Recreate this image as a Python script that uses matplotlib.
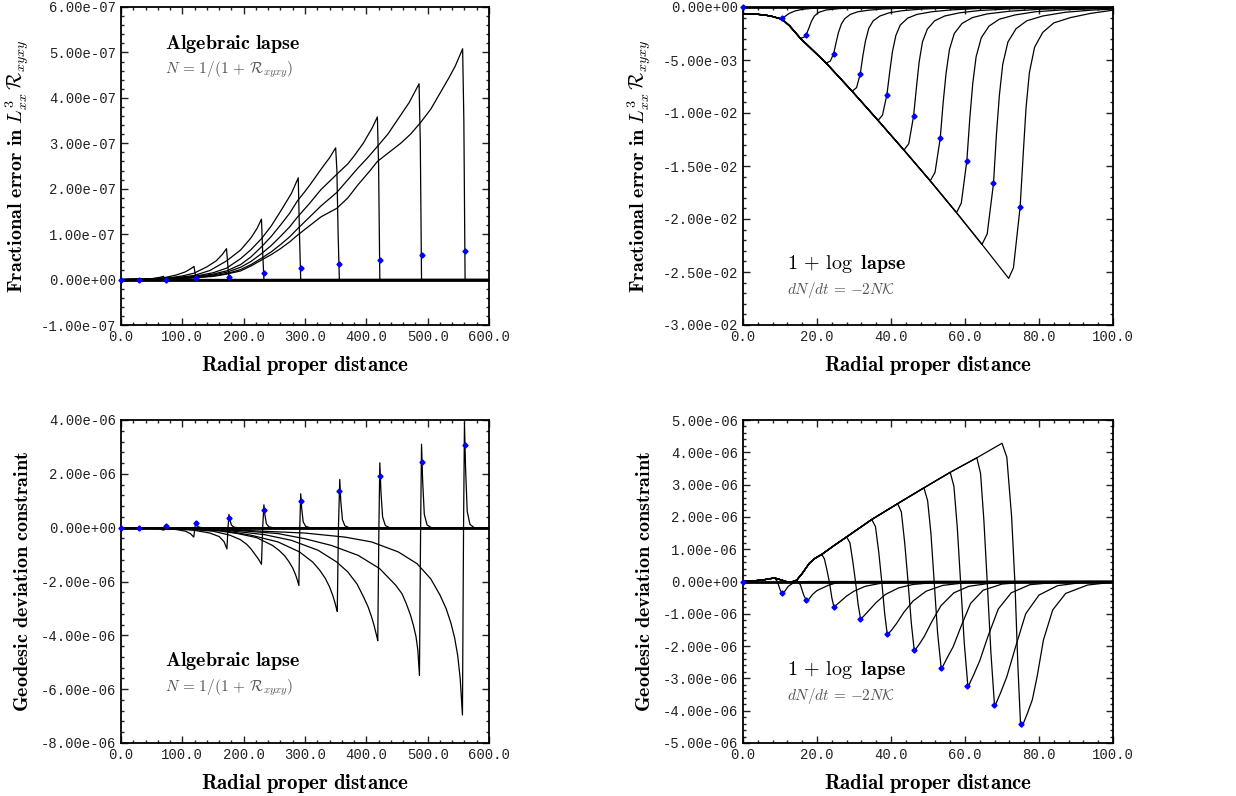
import matplotlib
matplotlib.use("Agg")
import matplotlib.pyplot as plt
from matplotlib.ticker import AutoMinorLocator, FormatStrFormatter, FuncFormatter, MultipleLocator

plt.rcParams["mathtext.fontset"] = "cm"
plt.rcParams["axes.unicode_minus"] = False

##### data #####
# top left: fractional error, algebraic lapse (y in units of 1e-7)
tl_dot_x = [0, 29, 73, 122, 176, 233, 293, 356, 422, 490, 561]
tl_dot_y = [0, 0, 0.0, 0.03, 0.065, 0.15, 0.26, 0.345, 0.43, 0.53, 0.63]
tl_curves = [
    ([0, 600], [0, 0]),
    ([0, 15, 27, 29, 600], [0, 0, 0.005, 0, 0]),
    ([0, 30, 50, 62, 69, 71, 73, 600], [0, 0.003, 0.02, 0.045, 0.07, 0.03, 0, 0]),
    ([0, 40, 70, 90, 105, 115, 119, 121, 122, 600],
     [0, 0.005, 0.04, 0.1, 0.17, 0.25, 0.29, 0.12, 0, 0]),
    ([0, 50, 80, 100, 119, 140, 155, 165, 172, 174, 176, 600],
     [0, 0.01, 0.04, 0.08, 0.14, 0.28, 0.41, 0.55, 0.68, 0.35, 0, 0]),
    ([0, 60, 90, 119, 145, 172, 195, 212, 222, 229, 231, 233, 600],
     [0, 0.01, 0.04, 0.09, 0.2, 0.41, 0.65, 0.92, 1.13, 1.33, 0.6, 0, 0]),
    ([0, 70, 119, 150, 172, 195, 212, 229, 245, 260, 278, 289, 291, 293, 600],
     [0, 0.02, 0.07, 0.15, 0.25, 0.46, 0.66, 0.9, 1.18, 1.5, 1.9, 2.24, 1.0, 0, 0]),
    ([0, 80, 119, 150, 172, 195, 212, 229, 245, 260, 275, 288, 300, 310, 322, 330, 340, 350,
      352, 354, 356, 600],
     [0, 0.02, 0.06, 0.12, 0.19, 0.33, 0.5, 0.72, 0.95, 1.2, 1.46, 1.74, 1.94, 2.12, 2.35, 2.5,
      2.68, 2.9, 2.4, 1.0, 0, 0]),
    ([0, 90, 119, 150, 172, 195, 212, 229, 245, 260, 275, 288, 307, 326, 352, 370, 380, 395,
      410, 418, 420, 422, 600],
     [0, 0.02, 0.05, 0.1, 0.16, 0.27, 0.4, 0.57, 0.75, 0.95, 1.16, 1.38, 1.67, 1.98, 2.32, 2.55,
      2.72, 3.0, 3.35, 3.58, 2.5, 0, 0]),
    ([0, 100, 150, 172, 195, 212, 229, 245, 260, 275, 288, 307, 326, 352, 370, 386, 402, 418,
      435, 450, 470, 486, 488, 490, 600],
     [0, 0.02, 0.08, 0.13, 0.22, 0.33, 0.47, 0.61, 0.77, 0.94, 1.12, 1.37, 1.62, 1.92, 2.2, 2.45,
      2.68, 2.93, 3.2, 3.5, 3.9, 4.31, 3.0, 0, 0]),
    ([0, 100, 150, 172, 195, 212, 229, 245, 260, 275, 288, 307, 326, 352, 370, 386, 405, 418,
      437, 456, 472, 488, 505, 520, 535, 545, 557, 559, 561, 600],
     [0, 0.02, 0.07, 0.12, 0.19, 0.3, 0.43, 0.55, 0.68, 0.83, 0.98, 1.18, 1.38, 1.57, 1.8, 2.08,
      2.38, 2.6, 2.8, 3.0, 3.2, 3.45, 3.75, 4.1, 4.45, 4.7, 5.08, 3.5, 0, 0]),
]

# top right: fractional error, 1+log lapse (y in units of 1e-3)
tr_dot_x = [0, 10.6, 17.1, 24.5, 31.7, 38.9, 46.1, 53.3, 60.5, 67.7, 74.9]
tr_dot_y = [0, -1.08, -2.6, -4.4, -6.3, -8.26, -10.3, -12.4, -14.5, -16.65, -18.85]
tr_env_x = [0, 3, 6, 8, 10, 11.3, 12.6, 15.5, 22.5, 29.5, 36.5, 43.5, 50.6, 57.7, 64.6, 71.8]
tr_env_y = [-0.62, -0.66, -0.76, -0.9, -1.1, -1.38, -1.78, -2.95, -5.3, -7.95, -10.7, -13.5,
            -16.4, -19.4, -22.4, -25.6]
tr_rises = [
    ([10, 10.6, 11.5, 12.5, 14, 16, 19, 23, 30, 40, 100],
     [-1.1, -1.08, -0.85, -0.6, -0.38, -0.22, -0.12, -0.06, -0.02, 0, 0]),
    ([15.5, 16.5, 17.1, 17.8, 18.5, 19.3, 20.5, 22.5, 26, 32, 40, 55, 100],
     [-2.95, -2.85, -2.6, -2.0, -1.35, -0.85, -0.5, -0.28, -0.15, -0.07, -0.03, -0.01, 0]),
    ([22.5, 23.6, 24.5, 25.2, 25.8, 26.6, 27.5, 29, 31, 34, 38, 45, 60, 100],
     [-5.3, -5.1, -4.4, -3.3, -2.4, -1.6, -1.1, -0.7, -0.45, -0.3, -0.18, -0.09, -0.03, 0]),
    ([29.5, 30.7, 31.7, 32.4, 33.1, 34, 35.2, 37, 39.5, 43, 48, 55, 70, 100],
     [-7.95, -7.6, -6.3, -4.6, -3.2, -2.0, -1.3, -0.85, -0.55, -0.35, -0.2, -0.1, -0.04, -0.01]),
    ([36.5, 37.7, 38.9, 39.7, 40.4, 41.3, 42.5, 44.5, 47, 51, 56, 63, 75, 100],
     [-10.7, -10.2, -8.26, -6.0, -4.2, -2.7, -1.7, -1.05, -0.7, -0.45, -0.28, -0.15, -0.06, -0.02]),
    ([43.5, 44.8, 46.1, 46.9, 47.6, 48.5, 49.8, 51.8, 54.5, 58.5, 64, 72, 85, 100],
     [-13.5, -12.9, -10.3, -7.5, -5.2, -3.3, -2.1, -1.3, -0.85, -0.55, -0.33, -0.18, -0.08, -0.04]),
    ([50.6, 51.9, 53.3, 54.1, 54.9, 55.8, 57.1, 59.2, 62, 66, 72, 80, 90, 100],
     [-16.4, -15.6, -12.4, -9.0, -6.2, -4.0, -2.5, -1.55, -1.0, -0.65, -0.4, -0.22, -0.12, -0.07]),
    ([57.7, 59.0, 60.5, 61.3, 62.1, 63, 64.4, 66.5, 69.3, 73.5, 79, 87, 100],
     [-19.4, -18.5, -14.5, -10.5, -7.2, -4.7, -2.9, -1.8, -1.15, -0.75, -0.45, -0.26, -0.12]),
    ([64.6, 66.0, 67.7, 68.5, 69.3, 70.2, 71.6, 73.8, 76.7, 81, 87, 94, 100],
     [-22.4, -21.4, -16.65, -12.0, -8.3, -5.4, -3.3, -2.05, -1.3, -0.85, -0.5, -0.3, -0.2]),
    ([71.8, 73.1, 74.9, 75.8, 76.5, 77.4, 78.8, 81, 84, 88.5, 94, 100],
     [-25.6, -24.6, -18.85, -13.5, -9.5, -6.2, -3.8, -2.4, -1.5, -1.0, -0.6, -0.3]),
]

# bottom left: geodesic deviation constraint, algebraic lapse (y in units of 1e-6)
bl_dot_x = [0, 29, 73, 122, 176, 233, 293, 356, 422, 490, 561]
bl_dot_y = [0, 0, 0.06, 0.19, 0.37, 0.64, 0.99, 1.38, 1.91, 2.43, 3.06]
bl_curves = [
    ([0, 600], [0, 0]),
    ([0, 600], [0, 0]),
    ([0, 40, 60, 70, 72, 73, 75, 80, 600], [0, -0.01, -0.04, -0.09, 0, 0.07, 0.02, 0, 0]),
    ([0, 60, 90, 105, 113, 118.6, 120.5, 122, 124, 127, 132, 600],
     [0, -0.02, -0.07, -0.13, -0.22, -0.35, 0, 0.21, 0.08, 0.02, 0, 0]),
    ([0, 80, 120, 145, 160, 168, 172.7, 174.5, 176, 177.5, 180, 184, 190, 600],
     [0, -0.03, -0.1, -0.2, -0.33, -0.52, -0.79, 0, 0.49, 0.3, 0.1, 0.02, 0, 0]),
    ([0, 100, 150, 177.6, 195, 205, 212.4, 218, 223, 226.5, 229, 231, 233, 234.5, 237, 241, 248, 600],
     [0, -0.04, -0.13, -0.28, -0.45, -0.62, -0.8, -0.98, -1.13, -1.26, -1.36, 0, 0.85, 0.5, 0.15,
      0.03, 0, 0]),
    ([0, 110, 160, 190.6, 221, 247, 258, 267, 274, 280, 284.5, 288, 290, 291.5, 293, 294.5, 297, 301,
      308, 600],
     [0, -0.04, -0.12, -0.22, -0.37, -0.66, -0.85, -1.05, -1.27, -1.5, -1.74, -1.98, -2.15, 0, 1.26,
      0.75, 0.22, 0.05, 0, 0]),
    ([0, 120, 170, 212, 256, 291, 312.7, 324, 333, 340, 345, 349, 351, 352.6, 354.5, 356.7, 358.3,
      361, 365, 372, 600],
     [0, -0.04, -0.12, -0.28, -0.53, -0.9, -1.28, -1.58, -1.88, -2.2, -2.5, -2.8, -2.98, -3.11, 0,
      1.79, 1.0, 0.3, 0.07, 0, 0]),
    ([0, 130, 180, 234, 277.8, 321.4, 352, 370, 385, 395.6, 403, 408.6, 412.5, 415.5, 417.5, 418.6,
      420.5, 422, 423.8, 426.5, 431, 438, 600],
     [0, -0.04, -0.12, -0.26, -0.47, -0.84, -1.28, -1.65, -2.1, -2.58, -2.95, -3.32, -3.62, -3.9,
      -4.08, -4.2, 0, 2.41, 1.35, 0.4, 0.08, 0, 0]),
    ([0, 140, 200, 256, 299.6, 343, 386.8, 421.7, 448, 458, 465.3, 472, 477, 481, 484, 486.6, 488.5,
      490, 491.8, 494.5, 499, 506, 600],
     [0, -0.04, -0.12, -0.22, -0.41, -0.66, -1.03, -1.52, -2.14, -2.45, -2.83, -3.25, -3.65, -4.05,
      -4.55, -5.49, 0, 3.1, 1.75, 0.5, 0.1, 0, 0]),
    ([0, 150, 220, 299.6, 365, 408.6, 452, 482.8, 505, 520, 530, 538, 544, 549, 553, 556.7, 558.5,
      560, 561.8, 564.5, 569, 576, 600],
     [0, -0.04, -0.12, -0.2, -0.35, -0.53, -0.9, -1.34, -1.9, -2.5, -3.0, -3.55, -4.1, -4.75, -5.6,
      -6.96, 0, 3.89, 2.2, 0.6, 0.12, 0, 0]),
]

# bottom right: geodesic deviation constraint, 1+log lapse (y in units of 1e-6)
br_dot_x = [0, 10.6, 17.1, 24.5, 31.7, 38.9, 46.2, 53.4, 60.6, 67.8, 75.0]
br_dot_y = [0, -0.37, -0.58, -0.78, -1.15, -1.63, -2.12, -2.67, -3.23, -3.82, -4.4]
br_env_x = [0, 3, 6, 8.5, 10, 11.9, 13, 14.5, 16, 17.9, 19.5, 21.3, 24.7, 28, 34.8, 41.8,
            48.9, 56, 63.2, 70]
br_env_y = [0, 0.02, 0.06, 0.11, 0.06, -0.01, -0.02, 0.04, 0.25, 0.56, 0.72, 0.84, 1.12, 1.38,
            1.92, 2.41, 2.9, 3.38, 3.83, 4.28]
br_drops = [
    ([8.5, 9.3, 10.0, 10.6, 11.3, 12.2, 13.5, 15, 18, 100],
     [0.11, 0.0, -0.25, -0.37, -0.3, -0.15, -0.05, -0.01, 0, 0]),
    ([14.5, 15.5, 16.4, 17.1, 17.8, 18.8, 20, 21.5, 23, 25, 28, 32, 100],
     [0.04, -0.1, -0.42, -0.58, -0.55, -0.4, -0.28, -0.2, -0.12, -0.05, -0.01, 0, 0]),
    ([21.3, 22.0, 22.7, 23.4, 24.0, 24.6, 25.5, 26.5, 28, 30, 33, 37, 42, 50, 100],
     [0.84, 0.7, 0.35, -0.05, -0.5, -0.8, -0.7, -0.6, -0.45, -0.3, -0.15, -0.06, -0.02, 0, 0]),
    ([28, 28.9, 29.7, 30.4, 31.1, 31.8, 32.8, 34, 36, 38.5, 42, 46, 52, 60, 100],
     [1.38, 1.2, 0.6, 0.0, -0.7, -1.17, -1.05, -0.9, -0.65, -0.4, -0.2, -0.09, -0.03, 0, 0]),
    ([34.8, 35.8, 36.7, 37.5, 38.3, 39.0, 40.2, 41.5, 43.5, 46, 49.5, 54, 60, 70, 100],
     [1.92, 1.7, 0.9, 0.0, -1.0, -1.65, -1.5, -1.3, -0.95, -0.6, -0.3, -0.12, -0.04, 0, 0]),
    ([41.8, 42.8, 43.7, 44.6, 45.5, 46.3, 47.6, 49, 51, 53.5, 57, 61, 67, 78, 100],
     [2.41, 2.15, 1.2, 0.0, -1.3, -2.15, -1.95, -1.7, -1.25, -0.75, -0.35, -0.15, -0.05, 0, 0]),
    ([48.9, 49.9, 50.8, 51.7, 52.6, 53.6, 55.1, 56.8, 58.9, 61.5, 64.9, 70, 76, 85, 100],
     [2.9, 2.5, 1.48, -0.06, -1.6, -2.72, -2.38, -2.02, -1.4, -0.68, -0.27, -0.08, -0.02, 0, 0]),
    ([56, 57.0, 57.9, 58.8, 59.8, 60.8, 62.3, 64, 66.2, 69, 72.5, 77.5, 84, 92, 100],
     [3.38, 2.95, 1.7, 0.0, -1.9, -3.27, -2.9, -2.45, -1.7, -0.85, -0.35, -0.1, -0.03, 0, 0]),
    ([63.2, 64.2, 65.1, 66.0, 67.0, 68.0, 69.6, 71.3, 73.6, 76.4, 80, 85, 91, 100],
     [3.83, 3.35, 1.9, 0.0, -2.2, -3.88, -3.45, -2.95, -2.05, -1.0, -0.42, -0.13, -0.04, 0]),
    ([70, 71.3, 72.6, 73.5, 74.3, 75.0, 75.4, 76.9, 78.2, 79.5, 81.2, 83.7, 87.2, 93.1, 100],
     [4.28, 3.85, 2.0, -0.06, -2.63, -4.4, -4.5, -4.07, -3.66, -2.94, -1.81, -0.88, -0.37, -0.11,
      -0.02]),
]


##### helpers #####
def join_env(env_x, env_y, part_x, part_y):
    xs = [x for x in env_x if x < part_x[0]] + list(part_x)
    ys = [y for x, y in zip(env_x, env_y) if x < part_x[0]] + list(part_y)
    return xs, ys


def draw(ax, curves, dot_x, dot_y, scale):
    for i, (xs, ys) in enumerate(curves):
        lw = 2.0 if i == 0 else 0.9
        ax.plot(xs, [y * scale for y in ys], color="black", lw=lw, zorder=2)
    ax.plot(dot_x, [y * scale for y in dot_y], ls="none", marker="D", ms=2.6,
            color="blue", mec="blue", zorder=4, clip_on=False)


def style(ax, xmax, xstep, ylo, yhi, ystep, ylabel):
    ax.set_xlim(0, xmax)
    ax.set_ylim(ylo, yhi)
    ax.xaxis.set_major_locator(MultipleLocator(xstep))
    ax.yaxis.set_major_locator(MultipleLocator(ystep))
    ax.xaxis.set_minor_locator(AutoMinorLocator(5))
    ax.yaxis.set_minor_locator(AutoMinorLocator(5))
    ax.xaxis.set_major_formatter(FormatStrFormatter("%.1f"))
    ax.yaxis.set_major_formatter(FuncFormatter(lambda v, p: "%.2e" % (round(v / ystep) * ystep)))
    ax.tick_params(which="both", direction="in", top=True, right=True, width=1.0,
                   labelsize=10, labelfontfamily="Liberation Mono", colors="#222222")
    ax.tick_params(which="major", length=5)
    ax.tick_params(which="minor", length=2.5)
    for sp in ax.spines.values():
        sp.set_linewidth(1.3)
    ax.set_xlabel(r"$\mathbf{Radial\ proper\ distance}$", fontsize=15, labelpad=7)
    ax.set_ylabel(ylabel, fontsize=14.5, labelpad=6)


def annotate(ax, y, title, formula):
    ax.text(0.12, y, title, transform=ax.transAxes, fontsize=14.5, va="center")
    ax.text(0.12, y - 0.082, formula, transform=ax.transAxes, fontsize=11, va="center",
            color="#555555")


##### figure #####
fig = plt.figure(figsize=(12.36, 7.96), dpi=100)
W, H = 1236, 796
ax_tl = fig.add_axes([121 / W, 1 - 325 / H, 368 / W, 318 / H])
ax_tr = fig.add_axes([743 / W, 1 - 325 / H, 370 / W, 318 / H])
ax_bl = fig.add_axes([121 / W, 1 - 743 / H, 368 / W, 323 / H])
ax_br = fig.add_axes([743 / W, 1 - 743 / H, 370 / W, 323 / H])

frac_label = r"$\mathbf{Fractional\ error\ in}\ L^3_{xx}\,\mathcal{R}_{xyxy}$"
geo_label = r"$\mathbf{Geodesic\ deviation\ constraint}$"
alg_title = r"$\mathbf{Algebraic\ lapse}$"
alg_formula = r"$N\,=\,1/(1\,+\,\mathcal{R}_{xyxy})$"
log_title = r"$1\,+\,\log$ $\mathbf{lapse}$"
log_formula = r"$dN/dt\,=\,{-}2N\mathcal{K}$"

draw(ax_tl, tl_curves, tl_dot_x, tl_dot_y, 1e-7)
style(ax_tl, 600, 100, -1e-7, 6e-7, 1e-7, frac_label)
annotate(ax_tl, 0.884, alg_title, alg_formula)

tr_curves = [([0, 100], [0, 0])] + [join_env(tr_env_x, tr_env_y, px, py) for px, py in tr_rises]
draw(ax_tr, tr_curves, tr_dot_x, tr_dot_y, 1e-3)
style(ax_tr, 100, 20, -3e-2, 0, 5e-3, frac_label)
annotate(ax_tr, 0.192, log_title, log_formula)

draw(ax_bl, bl_curves, bl_dot_x, bl_dot_y, 1e-6)
style(ax_bl, 600, 100, -8e-6, 4e-6, 2e-6, geo_label)
annotate(ax_bl, 0.254, alg_title, alg_formula)

br_curves = [([0, 100], [0, 0])] + [join_env(br_env_x, br_env_y, px, py) for px, py in br_drops]
draw(ax_br, br_curves, br_dot_x, br_dot_y, 1e-6)
style(ax_br, 100, 20, -5e-6, 5e-6, 1e-6, geo_label)
annotate(ax_br, 0.226, log_title, log_formula)

fig.savefig("out.png", dpi=100, facecolor="white")
